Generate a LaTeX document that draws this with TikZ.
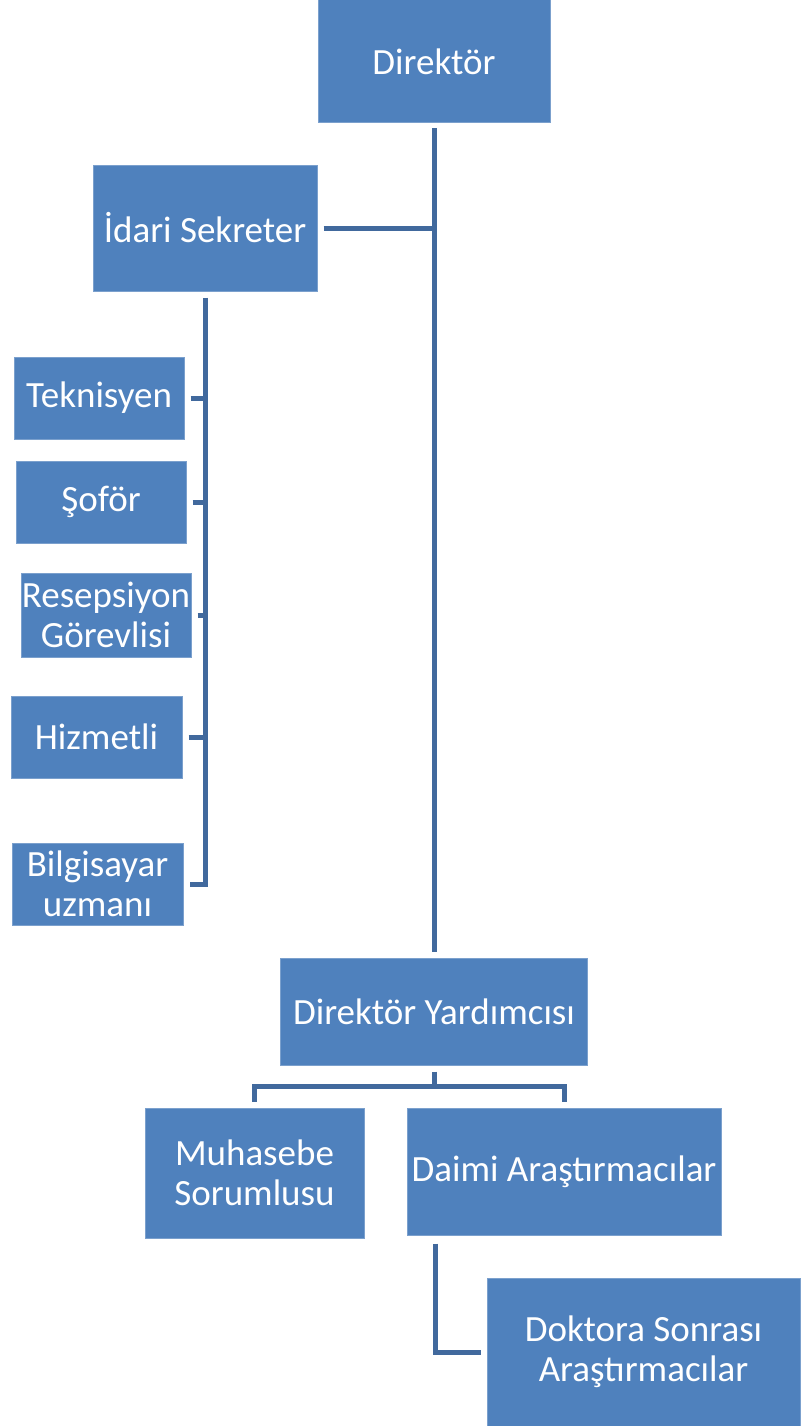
\documentclass[tikz,border=0pt]{standalone}
\usepackage{fontspec}
\setmainfont{Carlito}
\definecolor{boxblue}{HTML}{4F81BD}
\definecolor{boxedge}{HTML}{7BA0CD}
\definecolor{lineblue}{HTML}{41699D}
\usetikzlibrary{positioning, calc}
\tikzset{
	orgnode/.style={
			rectangle,
			draw=boxedge,
			line width=1pt,
			fill=boxblue,
			text=white,
			font=\fontsize{37}{40}\selectfont,
			align=center,
			inner sep=0pt
		},
	staffnode/.style={
			orgnode,
			minimum width=170pt,
			minimum height=82pt
		},
	orgline/.style={
			draw=lineblue,
			line width=5pt
		}
}
\begin{document}
\begin{tikzpicture}[x=1pt, y=-1pt]
\useasboundingbox (0,0) rectangle (800,1426);

\node[orgnode, minimum width=232pt, minimum height=123pt] (dir) at (434,61.5) {Direktör};
\node[orgnode, minimum width=224pt, minimum height=126pt] (idari) at (205,228) {İdari Sekreter};

\node[staffnode] (tek) at (99,398) {Teknisyen};
\node[staffnode] (sofor) at (101,502) {Şoför};
\node[staffnode, minimum height=84pt] (resep) at (106,615) {Resepsiyon\\Görevlisi};
\node[staffnode, minimum width=171pt] (hizmet) at (96.5,737) {Hizmetli};
\node[staffnode, minimum width=171pt] (bilg) at (97.5,884) {Bilgisayar\\uzmanı};

\node[orgnode, minimum width=307pt, minimum height=107pt] (dyard) at (434,1011.5) {Direktör Yardımcısı};
\node[orgnode, minimum width=219pt, minimum height=130pt] (muhas) at (254.5,1173) {Muhasebe\\Sorumlusu};
\node[orgnode, minimum width=314pt, minimum height=127pt] (daimi) at (564,1171.5) {Daimi Araştırmacılar};
\node[orgnode, minimum width=313pt, minimum height=148pt] (doktor) at (643.5,1352) {Doktora Sonrası\\Araştırmacılar};

% direktor
\draw[orgline] ([yshift=-5pt]dir.south) -- ([yshift=6pt]dyard.north);
\draw[orgline] ([xshift=6pt]idari.east) -- (idari.east -| dir.south);

% idari sekreter
\draw[orgline] ([yshift=-6pt]idari.south) |- ([xshift=6pt]bilg.east);
\foreach \n in {tek, sofor, resep, hizmet}
  \draw[orgline] ([xshift=6pt]\n.east) -- (\n.east -| idari.south);

% direktor yardimcisi
\coordinate (dyb) at ([yshift=-21pt]dyard.south);
\draw[orgline] ([yshift=-6pt]dyard.south) -- (dyb);
\draw[orgline] ([yshift=6pt]muhas.north) |- (dyb) -| ([yshift=6pt]daimi.north);
\draw[orgline] ([shift={(29pt,-8pt)}]daimi.south west) |- ([xshift=-6pt]doktor.west);

\end{tikzpicture}
\end{document}
